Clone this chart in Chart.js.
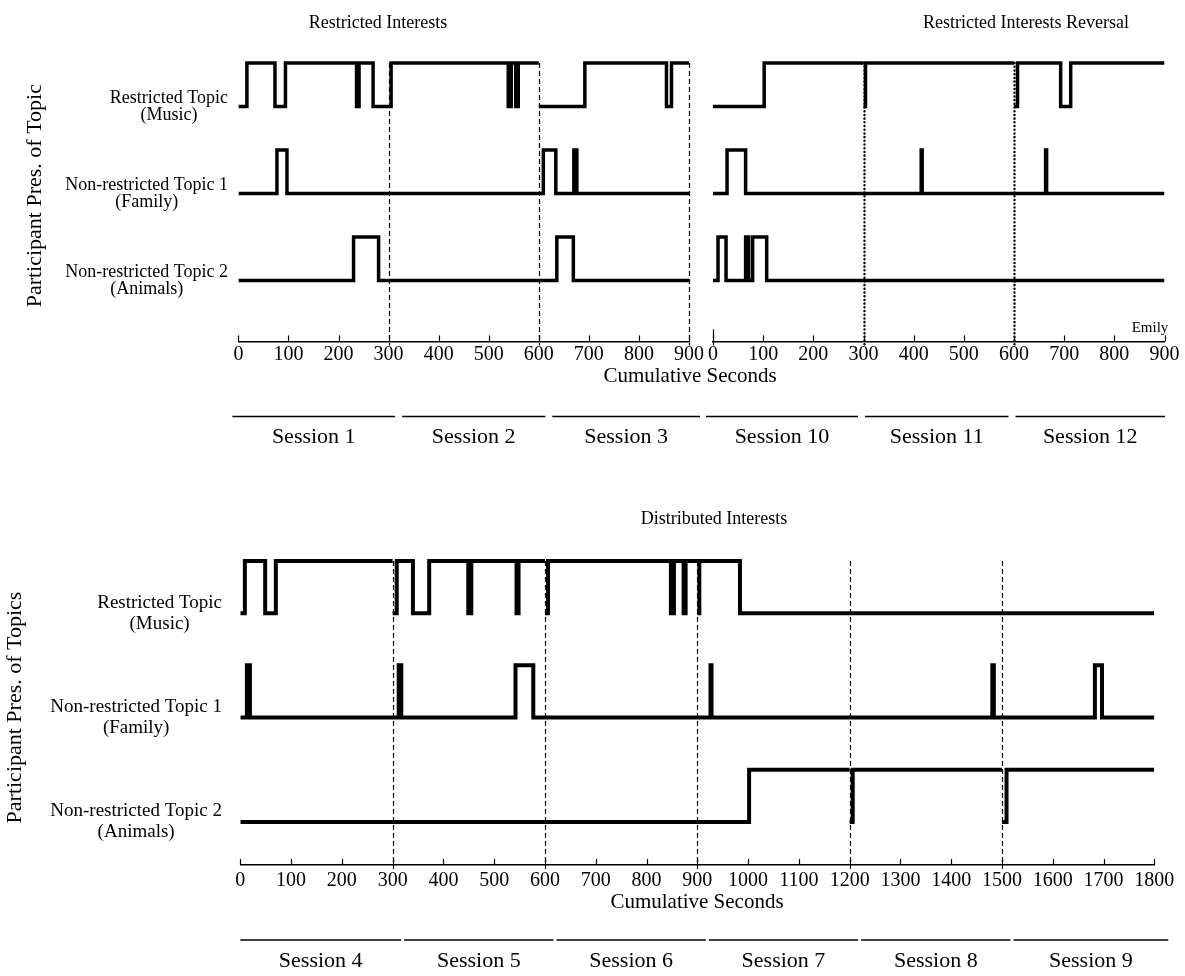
<!DOCTYPE html>
<html>
<head>
<meta charset="utf-8">
<script src="https://cdn.jsdelivr.net/npm/chart.js@4.4.0/dist/chart.umd.min.js"></script>
<style>
  body { margin: 0; background: #fff; font-family: "Liberation Serif", serif; }
  #wrap { position: relative; width: 1185px; height: 976px; overflow: hidden; }
  canvas { position: absolute; }
  .lbl { position: absolute; color: #000; white-space: nowrap; transform: translate(-50%, -50%); }
</style>
</head>
<body>
<div id="wrap">
  <canvas id="restricted" width="710" height="460" style="left:0;top:0"></canvas>
  <canvas id="reversal" width="485" height="460" style="left:700px;top:0"></canvas>
  <canvas id="distributed" width="1185" height="476" style="left:0;top:500px"></canvas>
  <div class="lbl" style="left:378px;top:22px;font-size:18px">Restricted Interests</div>
  <div class="lbl" style="left:1026px;top:22px;font-size:18px">Restricted Interests Reversal</div>
  <div class="lbl" style="left:690px;top:375px;font-size:21px">Cumulative Seconds</div>
  <div class="lbl" style="left:1150px;top:327px;font-size:15px">Emily</div>
  <div class="lbl" style="left:714px;top:518px;font-size:18px">Distributed Interests</div>
  <div class="lbl" style="left:697px;top:901px;font-size:21px">Cumulative Seconds</div>
</div>
<script>
const FONT = "'Liberation Serif', 'Times New Roman', serif";

// session boundaries (cumulative seconds) and names
const topBounds = [0, 300, 600, 900];
const bottomBounds = [0, 300, 600, 900, 1200, 1500, 1800];
const sessionsRestricted = ["Session 1", "Session 2", "Session 3"];
const sessionsReversal = ["Session 10", "Session 11", "Session 12"];
const sessionsDistributed = ["Session 4", "Session 5", "Session 6", "Session 7", "Session 8", "Session 9"];

// row labels (music / family / animals)
const rowLabels = [
  ["Restricted Topic", "(Music)"],
  ["Non-restricted Topic 1", "(Family)"],
  ["Non-restricted Topic 2", "(Animals)"],
];

// topic present intervals [on, off] in cumulative seconds
const musicRestricted = [[17, 73], [94, 236], [241, 269], [305, 539], [545, 554], [559, 600], [692, 855], [865, 900]];
const familyRestricted = [[77, 97], [609, 634], [670, 676]];
const animalsRestricted = [[230, 280], [636, 669]];

const musicReversal = [[102, 300], [304, 600], [607, 693], [713, 900]];
const familyReversal = [[28, 65], [415, 417], [663, 665]];
const animalsReversal = [[10, 26], [65, 71], [79, 107]];

const musicDistributed = [[9, 49], [70, 300], [308, 340], [372, 449], [455, 544], [548, 600], [606, 848], [854, 873], [877, 900], [904, 984]];
const familyDistributed = [[13, 19], [312, 317], [542, 577], [926, 928], [1481, 1484], [1683, 1697]];
const animalsDistributed = [[1002, 1200], [1206, 1500], [1509, 1800]];

// build a stepped series: base = absent level, base + 1 = present
function stepPoints(intervals, bounds, base) {
  const pts = [];
  for (let s = 0; s < bounds.length - 1; s++) {
    const s0 = bounds[s];
    const s1 = bounds[s + 1];
    let level = base;
    pts.push({ x: s0, y: base });
    intervals
      .filter((iv) => iv[0] < s1 && iv[1] > s0)
      .forEach((iv) => {
        pts.push({ x: Math.max(iv[0], s0), y: base + 1 });
        level = base + 1;
        if (iv[1] < s1) {
          pts.push({ x: iv[1], y: base });
          level = base;
        }
      });
    pts.push({ x: s1, y: level });
    pts.push({ x: s1, y: null });
  }
  return pts;
}

function rows(music, family, animals, bounds, width) {
  return [
    [music, 4],
    [family, 2],
    [animals, 0],
  ].map(([iv, base]) => ({
    data: stepPoints(iv, bounds, base),
    stepped: true,
    borderColor: "#000",
    borderWidth: width,
    borderJoinStyle: "miter",
    pointRadius: 0,
    fill: false,
  }));
}

// dividers, inward ticks, row labels, session bars and labels
const extras = {
  id: "extras",
  beforeDatasetsDraw(chart, args, opts) {
    const { ctx, chartArea } = chart;
    const x = chart.scales.x;
    const y = chart.scales.y;
    ctx.save();
    ctx.strokeStyle = "#000";
    ctx.lineWidth = opts.dashWidth;
    ctx.lineCap = opts.dashCap;
    ctx.setLineDash(opts.dash);
    opts.dividers.forEach((v) => {
      const px = Math.round(x.getPixelForValue(v)) + 0.5;
      ctx.beginPath();
      ctx.moveTo(px, y.getPixelForValue(5));
      ctx.lineTo(px, chartArea.bottom + 4);
      ctx.stroke();
    });
    ctx.restore();
  },
  afterDraw(chart, args, opts) {
    const { ctx, chartArea } = chart;
    const x = chart.scales.x;
    const y = chart.scales.y;
    ctx.save();
    ctx.strokeStyle = "#000";
    ctx.fillStyle = "#000";
    ctx.lineWidth = 1.2;
    x.ticks.forEach((t) => {
      const px = Math.round(x.getPixelForValue(t.value)) + 0.5;
      ctx.beginPath();
      ctx.moveTo(px, chartArea.bottom);
      ctx.lineTo(px, chartArea.bottom - 6);
      ctx.stroke();
    });
    if (opts.originMark) {
      const px = Math.round(x.getPixelForValue(0)) + 0.5;
      ctx.beginPath();
      ctx.moveTo(px, chartArea.bottom - 12);
      ctx.lineTo(px, chartArea.bottom + 4);
      ctx.stroke();
    }

    // row labels: each block centred on its own widest line, blocks right-aligned
    if (opts.labelRight) {
      ctx.font = opts.labelSize + "px " + FONT;
      ctx.textAlign = "center";
      ctx.textBaseline = "middle";
      [4, 2, 0].forEach((v, i) => {
        const lines = rowLabels[i];
        const w = Math.max(...lines.map((l) => ctx.measureText(l).width));
        const cx = opts.labelRight - w / 2;
        const cy = y.getPixelForValue(v);
        lines.forEach((l, j) => {
          ctx.fillText(l, cx, cy + (j - (lines.length - 1) / 2) * opts.labelLine);
        });
      });
    }

    // session bars under the axis
    const b = opts.bounds;
    const n = opts.sessions.length;
    ctx.lineWidth = 1.5;
    ctx.font = "22px " + FONT;
    ctx.textAlign = "center";
    ctx.textBaseline = "middle";
    opts.sessions.forEach((name, i) => {
      const a = i === 0
        ? x.getPixelForValue(b[0]) + opts.barStart
        : x.getPixelForValue(b[i]) + opts.barShift + opts.barGap / 2;
      const c = i === n - 1
        ? x.getPixelForValue(b[n]) + opts.barEnd
        : x.getPixelForValue(b[i + 1]) + opts.barShift - opts.barGap / 2;
      const ly = chartArea.bottom + 75;
      ctx.beginPath();
      ctx.moveTo(a, ly);
      ctx.lineTo(c, ly);
      ctx.stroke();
      ctx.fillText(name, (a + c) / 2, ly + 21);
    });
    ctx.restore();
  },
};

function xScale(max, pad) {
  return {
    type: "linear",
    min: 0,
    max: max,
    afterFit: (s) => { s.height = 30; },
    grid: { display: false, drawTicks: false },
    border: { display: true, color: "#000", width: 1.5 },
    ticks: {
      stepSize: 100,
      autoSkip: false,
      maxRotation: 0,
      color: "#000",
      padding: pad,
      font: { family: FONT, size: 20 },
      callback: (v) => String(v),
    },
  };
}

function yScale(min, max, show, width, title, titlePad) {
  return {
    min: min,
    max: max,
    display: show,
    afterFit: (s) => { s.width = width; },
    grid: { display: false, drawTicks: false },
    border: { display: false },
    ticks: { display: false },
    title: {
      display: title !== "",
      text: title,
      color: "#000",
      padding: { top: titlePad, bottom: 0 },
      font: { family: FONT, size: 22 },
    },
  };
}

function baseOptions(padding, x, y, extraOpts) {
  return {
    responsive: false,
    animation: false,
    layout: { padding: padding },
    plugins: { legend: { display: false }, tooltip: { enabled: false }, extras: extraOpts },
    scales: { x: x, y: y },
  };
}

new Chart(document.getElementById("restricted"), {
  type: "line",
  data: { datasets: rows(musicRestricted, familyRestricted, animalsRestricted, topBounds, 3.5) },
  options: baseOptions(
    { left: 0, top: 50, right: 21, bottom: 88.6 },
    xScale(900, 1),
    yScale(-1.4, 5.3, true, 238.4, "Participant Pres. of Topic", 22),
    {
      dividers: [300, 600, 900], dash: [5, 3], dashWidth: 1.2, dashCap: "butt",
      labelRight: 228, labelSize: 18, labelLine: 17,
      bounds: topBounds, sessions: sessionsRestricted,
      barStart: -6, barEnd: 11, barShift: 10, barGap: 7,
    }
  ),
  plugins: [extras],
});

new Chart(document.getElementById("reversal"), {
  type: "line",
  data: { datasets: rows(musicReversal, familyReversal, animalsReversal, topBounds, 3.5) },
  options: baseOptions(
    { left: 13, top: 50, right: 20.5, bottom: 88.6 },
    xScale(900, 1),
    yScale(-1.4, 5.3, false, 0, "", 0),
    {
      dividers: [300, 600], dash: [0.1, 3.6], dashWidth: 2.4, dashCap: "round",
      bounds: topBounds, sessions: sessionsReversal, originMark: true,
      barStart: -7, barEnd: 0.5, barShift: -2, barGap: 7,
    }
  ),
  plugins: [extras],
});

new Chart(document.getElementById("distributed"), {
  type: "line",
  data: { datasets: rows(musicDistributed, familyDistributed, animalsDistributed, bottomBounds, 4) },
  options: baseOptions(
    { left: 0, top: 50, right: 30.7, bottom: 81 },
    xScale(1800, 4),
    yScale(-0.824, 5.21, true, 240.3, "Participant Pres. of Topics", 2),
    {
      dividers: [300, 600, 900, 1200, 1500], dash: [5, 3], dashWidth: 1.2, dashCap: "butt",
      labelRight: 222, labelSize: 19, labelLine: 21,
      bounds: bottomBounds, sessions: sessionsDistributed,
      barStart: 0, barEnd: 14, barShift: 10, barGap: 3,
    }
  ),
  plugins: [extras],
});
</script>
</body>
</html>
